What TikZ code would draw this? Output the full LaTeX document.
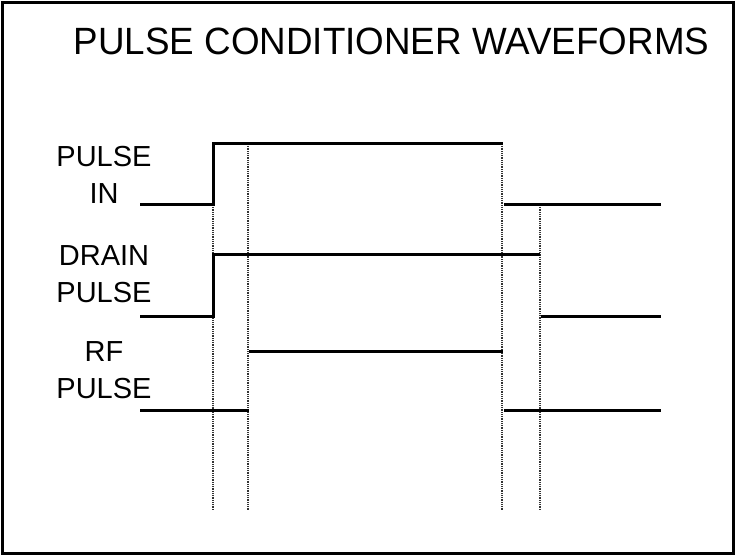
\documentclass[tikz,border=0pt]{standalone}
\usepackage{fontspec}
\setmainfont{Liberation Sans}
\usetikzlibrary{positioning}

\tikzset{
  wave/.style={line width=3pt,line cap=rect},
  guide/.style={line width=1.1pt,black!80,dash pattern=on 1pt off 0.8pt},
  sig/.style={font=\fontsize{29}{37}\selectfont,align=center,inner sep=0pt}
}

\begin{document}
\begin{tikzpicture}[x=1pt,y=-1pt]
  \useasboundingbox (0,0) rectangle (736,556);
  \draw[line width=2.6pt] (2.5,2.5) rectangle (733.5,553.5);

  % title
  \node[font=\fontsize{38}{42}\selectfont,xscale=0.968,inner sep=0pt] (title) at (391.5,41)
    {PULSE CONDITIONER WAVEFORMS};

  % signal names
  \node[sig] (pulsein) at (104,175) {PULSE\\IN};
  \node[sig] (drain)   at (104,274) {DRAIN\\PULSE};
  \node[sig] (rf)      at (104,370) {RF\\PULSE};

  % timing guides
  \draw[guide] (213,205) -- (213,510);
  \draw[guide] (248,144) -- (248,510);
  \draw[guide] (502,144) -- (502,510);
  \draw[guide] (540,205) -- (540,510);

  % pulse in
  \draw[wave] (141,205) -- (213,205) -- (213,144) -- (501,144);
  \draw[wave] (505,205) -- (659,205);

  % drain pulse
  \draw[wave] (141,316) -- (213,316) -- (213,254) -- (538,254);
  \draw[wave] (542,316) -- (659,316);

  % rf pulse
  \draw[wave] (141,410) -- (247,410);
  \draw[wave] (250,351) -- (501,351);
  \draw[wave] (505,410) -- (659,410);
\end{tikzpicture}
\end{document}
